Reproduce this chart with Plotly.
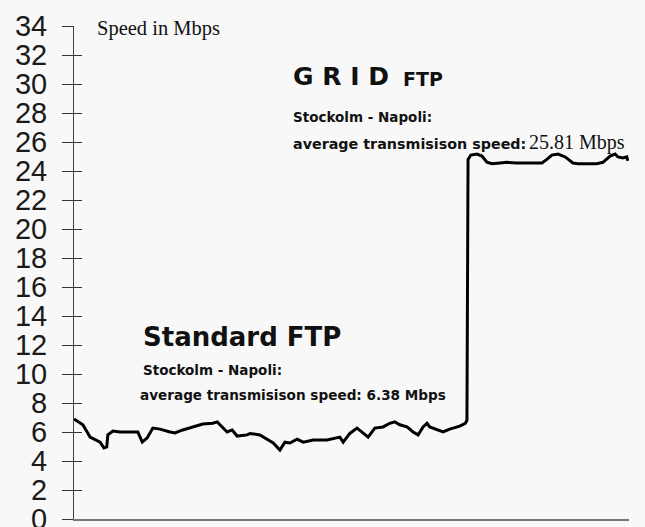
import plotly.graph_objects as go

# time (relative units, 0-100) and transfer speed (Mbps)
time_pts = [0.0, 1.6, 2.9, 3.8, 4.7, 5.4, 5.9, 6.1, 7.0, 8.3, 11.5, 12.3, 13.2, 14.2, 15.5,
            17.3, 18.2, 19.6, 21.4, 23.2, 25.0, 25.8, 26.7, 27.6, 28.5, 29.4, 31.2, 31.7,
            33.5, 35.9, 37.1, 38.0, 38.9, 40.2, 41.3, 43.1, 45.6, 47.9, 48.5, 49.7, 51.0,
            52.1, 53.0, 54.2, 55.7, 56.9, 57.8, 58.7, 60.0, 61.1, 62.0, 62.9, 63.6, 64.1,
            65.4, 66.5, 67.7, 69.5, 70.5, 70.8, 71.0, 71.5, 72.6, 73.5, 74.4, 75.3, 76.8,
            78.0, 79.8, 81.6, 82.5, 84.3, 85.2, 86.1, 87.2, 88.5, 89.9, 90.8, 94.2, 95.3,
            96.6, 97.5, 98.0, 98.9, 99.6, 99.8]
speed_mbps = [6.9, 6.5, 5.65, 5.45, 5.3, 4.9, 4.97, 5.8, 6.07, 6.0, 6.0, 5.3, 5.6, 6.27, 6.2,
              6.0, 5.93, 6.14, 6.35, 6.55, 6.6, 6.7, 6.35, 6.0, 6.14, 5.72, 5.8, 5.9,
              5.8, 5.24, 4.76, 5.3, 5.24, 5.5, 5.3, 5.45, 5.45, 5.65, 5.3, 5.9, 6.27,
              5.9, 5.65, 6.27, 6.35, 6.6, 6.7, 6.5, 6.35, 6.0, 5.8, 6.35, 6.6, 6.35,
              6.14, 6.0, 6.2, 6.4, 6.6, 6.8, 24.8, 25.1, 25.17, 25.03, 24.6, 24.5, 24.55,
              24.6, 24.55, 24.55, 24.5, 24.55, 24.8, 25.1, 25.17, 24.97, 24.55, 24.5, 24.5, 24.6,
              25.03, 25.17, 24.97, 24.9, 24.97, 24.7]

y_ticks = list(range(0, 35, 2))
y_labels = [str(v) for v in y_ticks]

BG = "#f8f8f8"
SANS = "'DejaVu Sans', sans-serif"
SERIF = "'Liberation Serif', 'Times New Roman', serif"

fig = go.Figure()
fig.add_trace(go.Scatter(x=time_pts, y=speed_mbps, mode="lines",
                         line=dict(color="#000000", width=3), hoverinfo="skip"))
# invisible trace to activate the secondary (inside-tick) axis
fig.add_trace(go.Scatter(x=[time_pts[0]], y=[speed_mbps[0]], yaxis="y2", mode="lines",
                         line=dict(width=0), hoverinfo="skip", showlegend=False))

fig.update_layout(
    width=645, height=527,
    margin=dict(l=74, r=16, t=26, b=8),
    paper_bgcolor=BG, plot_bgcolor=BG,
    showlegend=False,
    xaxis=dict(range=[0, 100], showgrid=False, zeroline=False, showticklabels=False,
               ticks="", showline=True, linecolor="#777777", linewidth=2, automargin=False),
    yaxis=dict(range=[0, 34], tickvals=y_ticks, ticktext=y_labels, showgrid=False,
               zeroline=False, ticks="outside", ticklen=11, tickwidth=1, tickcolor="#333333",
               showline=True, linecolor="#444444", linewidth=1, ticklabelstandoff=9,
               automargin=False, ticklabeloverflow="allow",
               tickfont=dict(family="'Liberation Sans', Arial, sans-serif", size=29, color="#1a1a1a")),
    yaxis2=dict(range=[0, 34], overlaying="y", side="left", tickvals=y_ticks,
                showticklabels=False, showgrid=False, zeroline=False, ticks="inside",
                ticklen=8, tickwidth=1, tickcolor="#333333", showline=False, automargin=False),
)

ann = []
def add(text, x, y, size, family=SANS, xanchor="left", bold=False):
    ann.append(dict(text=(f"<b>{text}</b>" if bold else text), xref="paper", yref="paper",
                    x=x, y=y, xanchor=xanchor, yanchor="middle", showarrow=False,
                    font=dict(family=family, size=size, color="#111111")))

W, H = 645, 527
L, R, T, B = 74, 16, 26, 8
pw, ph = W - L - R, H - T - B
def px(xp): return (xp - L) / pw
def py(yp): return (H - B - yp) / ph

add("Speed in Mbps", px(95), py(28), 20.5, family=SERIF)
add("G R I D", px(291), py(76), 25, bold=True)
add("FTP", px(401), py(79), 19, bold=True)
add("Stockolm - Napoli:", px(291), py(117), 13.5, bold=True)
add("average transmisison speed:", px(291), py(144), 14.3, bold=True)
add("25.81 Mbps", px(627), py(142), 20, family=SERIF, xanchor="right")
add("Standard FTP", px(141), py(337), 26, bold=True)
add("Stockolm - Napoli:", px(141), py(370), 13.5, bold=True)
add("average transmisison speed: 6.38 Mbps", px(138), py(395), 13.6, bold=True)
fig.update_layout(annotations=ann)

fig.write_html("out.html", config={"displayModeBar": False},
               post_script="document.body.style.margin='0';document.body.style.overflow='hidden';"
                           "document.body.style.background='#f8f8f8';")
